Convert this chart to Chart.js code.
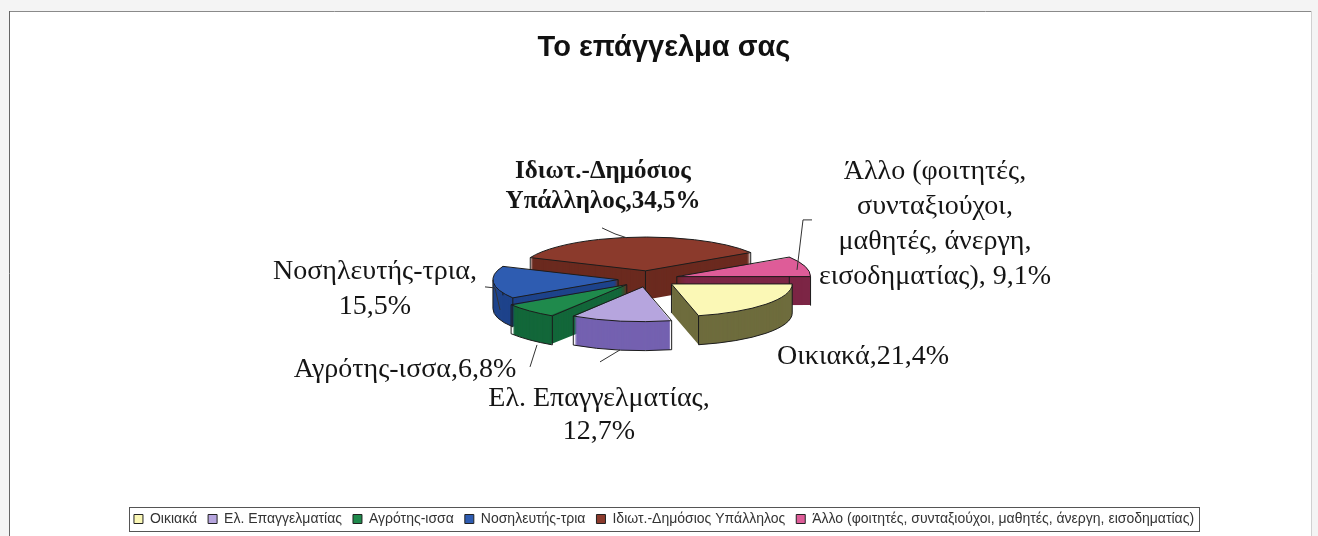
<!DOCTYPE html>
<html lang="el">
<head>
<meta charset="utf-8">
<title>Το επάγγελμα σας</title>
<script src="https://cdn.jsdelivr.net/npm/chart.js@4.4.1/dist/chart.umd.min.js"></script>
<style>
  html, body { margin: 0; padding: 0; background: #fff; }
  #wrap { position: relative; width: 1318px; height: 536px; }
</style>
</head>
<body>
<div id="wrap"><canvas id="professionChart" width="1318" height="536"></canvas></div>
<script>
// data
const categories = [
    'Οικιακά',
    'Ελ. Επαγγελματίας',
    'Αγρότης-ισσα',
    'Νοσηλευτής-τρια',
    'Ιδιωτ.-Δημόσιος Υπάλληλος',
    'Άλλο (φοιτητές, συνταξιούχοι, μαθητές, άνεργη, εισοδηματίας)'
];
const shares = [21.4, 12.7, 6.8, 15.5, 34.5, 9.1];

// slice label text, {v} is replaced by the slice value
const labelLines = [
    ['Οικιακά,{v}'],
    ['Ελ. Επαγγελματίας,', '{v}'],
    ['Αγρότης-ισσα,{v}'],
    ['Νοσηλευτής-τρια,', '{v}'],
    ['Ιδιωτ.-Δημόσιος', 'Υπάλληλος,{v}'],
    ['Άλλο (φοιτητές,', 'συνταξιούχοι,', 'μαθητές, άνεργη,', 'εισοδηματίας), {v}']
];

// colours: top face / side wall
const topColors  = ['#fbf8b6', '#b6a5de', '#1f8a4c', '#2e5cb1', '#8b3a2c', '#de5c98'];
const sideColors = ['#6e6c3d', '#7461b0', '#13673a', '#1e438b', '#6b2a1f', '#7c2545'];
const EDGE = '#1c1c1c';

// tilt of the pie and wall height (px)
const TILT = 0.27;
const DEPTH = 29;

// label placement, relative to the pie centre
const labelPlacement = [
    { dx: 215,  dy: 78,   lh: 0 },
    { dx: -49,  dy: 120,  lh: 33 },
    { dx: -243, dy: 91,   lh: 0 },
    { dx: -273, dy: -7,   lh: 35 },
    { dx: -45,  dy: -107, lh: 30, bold: true },
    { dx: 287,  dy: -107, lh: 35 }
];
const leaderLines = [
    [[-46, -51], [-33, -45], [-21, -41]],
    [[149, -9], [155, -59], [164, -59]],
    [[-163, 8], [-153, 9], [-148, 31]],
    [[-111, 66], [-118, 88]],
    [[-48, 83], [-28, 71]]
];

function midAngle(arc) { return (arc.startAngle + arc.endAngle) / 2; }

function squash(ctx, cx, cy, dy) {
    ctx.translate(cx, cy + dy);
    ctx.scale(1, TILT);
    ctx.translate(-cx, -cy);
}

// geometry the arc element uses for a pie slice (no spacing)
function sliceGeom(arc) {
    const off = (arc.options.offset || 0) / 4;
    const mid = midAngle(arc);
    const circ = arc.endAngle - arc.startAngle;
    return {
        x: arc.x + Math.cos(mid) * off,
        y: arc.y + Math.sin(mid) * off,
        r: arc.outerRadius + off * (1 - Math.sin(Math.min(Math.PI, circ)))
    };
}

function slicePath(ctx, arc) {
    const g = sliceGeom(arc);
    ctx.beginPath();
    ctx.moveTo(g.x, g.y);
    ctx.arc(g.x, g.y, g.r, arc.startAngle, arc.endAngle);
    ctx.closePath();
}

// extra empty layout box, nudges the chart area
function spacer(position, size) {
    return {
        position, weight: 0, fullSize: false, options: {},
        left: 0, top: 0, right: 0, bottom: 0, width: 0, height: 0,
        isHorizontal() { return position === 'top' || position === 'bottom'; },
        update(maxWidth, maxHeight) {
            if (this.isHorizontal()) { this.width = maxWidth; this.height = size; }
            else { this.width = size; this.height = maxHeight; }
        },
        draw() {}
    };
}

const spacers = {
    id: 'spacers',
    beforeInit(chart) {
        Chart.layouts.addBox(chart, spacer('right', 32));
        Chart.layouts.addBox(chart, spacer('bottom', 9));
    }
};

const frame = {
    id: 'frame',
    beforeDraw(chart) {
        const { ctx, width, height } = chart;
        ctx.save();
        ctx.fillStyle = '#f4f4f4';
        ctx.fillRect(0, 0, width, height);
        ctx.fillStyle = '#ffffff';
        ctx.fillRect(10, 12, 1301, height - 12);
        ctx.strokeStyle = '#8a8a8a';
        ctx.lineWidth = 1;
        ctx.beginPath();
        ctx.moveTo(9, 11.5); ctx.lineTo(1311, 11.5);
        ctx.stroke();
        ctx.strokeStyle = '#666';
        ctx.beginPath();
        ctx.moveTo(9.5, 11); ctx.lineTo(9.5, height);
        ctx.stroke();
        ctx.strokeStyle = '#d0d0d0';
        ctx.beginPath();
        ctx.moveTo(1311.5, 11); ctx.lineTo(1311.5, height);
        ctx.stroke();
        ctx.restore();
    }
};

// side walls under the slices, then tilt the slice faces
const pie3d = {
    id: 'pie3d',
    beforeDatasetsDraw(chart) {
        const ctx = chart.ctx;
        const arcs = chart.getDatasetMeta(0).data;
        const cx = arcs[0].x, cy = arcs[0].y;
        const base = ctx.getTransform();
        const order = arcs.map((a, i) => i)
            .sort((a, b) => Math.sin(midAngle(arcs[a])) - Math.sin(midAngle(arcs[b])));

        order.forEach(i => {
            const arc = arcs[i];
            const g = sliceGeom(arc);
            const ghost = Object.create(arc);
            ghost.options = Object.assign({}, arc.options, { backgroundColor: sideColors[i], borderWidth: 0 });
            for (let d = DEPTH; d >= 1; d--) {
                ctx.save();
                squash(ctx, cx, cy, d);
                ghost.draw(ctx);
                ctx.restore();
            }
            // bottom rim, front half only
            const a0 = Math.max(arc.startAngle, 0);
            const a1 = Math.min(arc.endAngle, Math.PI);
            if (a1 > a0) {
                ctx.save();
                squash(ctx, cx, cy, DEPTH);
                ctx.beginPath();
                ctx.arc(g.x, g.y, g.r, a0, a1);
                ctx.setTransform(base);
                ctx.strokeStyle = EDGE;
                ctx.lineWidth = 1;
                ctx.stroke();
                ctx.restore();
            }
            // vertical edges at the corners and silhouette
            const angles = [arc.startAngle, arc.endAngle];
            [0, Math.PI, 2 * Math.PI].forEach(a => {
                if (a > arc.startAngle && a < arc.endAngle) angles.push(a);
            });
            ctx.save();
            ctx.strokeStyle = EDGE;
            ctx.lineWidth = 1;
            ctx.beginPath();
            angles.forEach(a => {
                const px = g.x + Math.cos(a) * g.r;
                const py = cy + (g.y + Math.sin(a) * g.r - cy) * TILT;
                ctx.moveTo(px, py);
                ctx.lineTo(px, py + DEPTH);
            });
            ctx.moveTo(g.x, cy + (g.y - cy) * TILT);
            ctx.lineTo(g.x, cy + (g.y - cy) * TILT + DEPTH);
            ctx.stroke();
            ctx.restore();
        });

        ctx.save();
        squash(ctx, cx, cy, 0);
    },
    afterDatasetsDraw(chart) {
        const ctx = chart.ctx;
        ctx.restore();
        const arcs = chart.getDatasetMeta(0).data;
        const cx = arcs[0].x, cy = arcs[0].y;
        const base = ctx.getTransform();
        arcs.forEach(arc => {
            ctx.save();
            squash(ctx, cx, cy, 0);
            slicePath(ctx, arc);
            ctx.setTransform(base);
            ctx.strokeStyle = EDGE;
            ctx.lineWidth = 1;
            ctx.stroke();
            ctx.restore();
        });
    }
};

const sliceLabels = {
    id: 'sliceLabels',
    afterDraw(chart) {
        const ctx = chart.ctx;
        const arcs = chart.getDatasetMeta(0).data;
        const cx = arcs[0].x, cy = arcs[0].y;
        ctx.save();
        ctx.fillStyle = '#151515';
        ctx.textAlign = 'center';
        ctx.textBaseline = 'middle';
        shares.forEach((v, i) => {
            const p = labelPlacement[i];
            const pct = v.toFixed(1).replace('.', ',') + '%';
            ctx.font = (p.bold ? 'bold 25px' : '28px') + ' "Liberation Serif", "DejaVu Serif", serif';
            labelLines[i].forEach((line, j) => {
                ctx.fillText(line.replace('{v}', pct), cx + p.dx, cy + p.dy + j * p.lh);
            });
        });
        ctx.strokeStyle = '#333';
        ctx.lineWidth = 1;
        leaderLines.forEach(pts => {
            ctx.beginPath();
            pts.forEach(([x, y], k) => k ? ctx.lineTo(cx + x, cy + y) : ctx.moveTo(cx + x, cy + y));
            ctx.stroke();
        });

        // box round the legend
        const hb = chart.legend.legendHitBoxes;
        if (hb && hb.length) {
            const l = Math.min(...hb.map(b => b.left)) - 5;
            const r = Math.max(...hb.map(b => b.left + b.width)) + 5;
            const t = hb[0].top - 5;
            const b = hb[0].top + hb[0].height + 5;
            ctx.strokeStyle = '#555';
            ctx.strokeRect(Math.round(l) + 0.5, Math.round(t) + 0.5, Math.round(r - l), Math.round(b - t));
        }
        ctx.restore();
    }
};

const baseLegendLabels = (Chart.overrides.pie || Chart.overrides.doughnut).plugins.legend.labels.generateLabels;

new Chart(document.getElementById('professionChart'), {
    type: 'pie',
    data: {
        labels: categories,
        datasets: [{
            data: shares,
            backgroundColor: topColors,
            borderWidth: 0,
            offset: 120,
            hoverOffset: 0
        }]
    },
    options: {
        responsive: false,
        animation: false,
        events: [],
        rotation: 90,
        radius: 120,
        layout: { padding: { left: 10, right: 0, top: 0, bottom: 0 } },
        plugins: {
            title: {
                display: true,
                text: 'Το επάγγελμα σας',
                color: '#111',
                font: { family: '"Liberation Sans", Arial, sans-serif', size: 29, weight: 'bold' },
                padding: { top: 31, bottom: 0 }
            },
            legend: {
                display: true,
                position: 'bottom',
                labels: {
                    color: '#333',
                    font: { family: '"Liberation Sans", Arial, sans-serif', size: 14 },
                    boxWidth: 9,
                    boxHeight: 9,
                    padding: 11,
                    generateLabels(chart) {
                        return baseLegendLabels(chart).map(item => Object.assign(item, { strokeStyle: '#222', lineWidth: 1 }));
                    }
                }
            },
            tooltip: { enabled: false }
        }
    },
    plugins: [spacers, frame, pie3d, sliceLabels]
});
</script>
</body>
</html>
